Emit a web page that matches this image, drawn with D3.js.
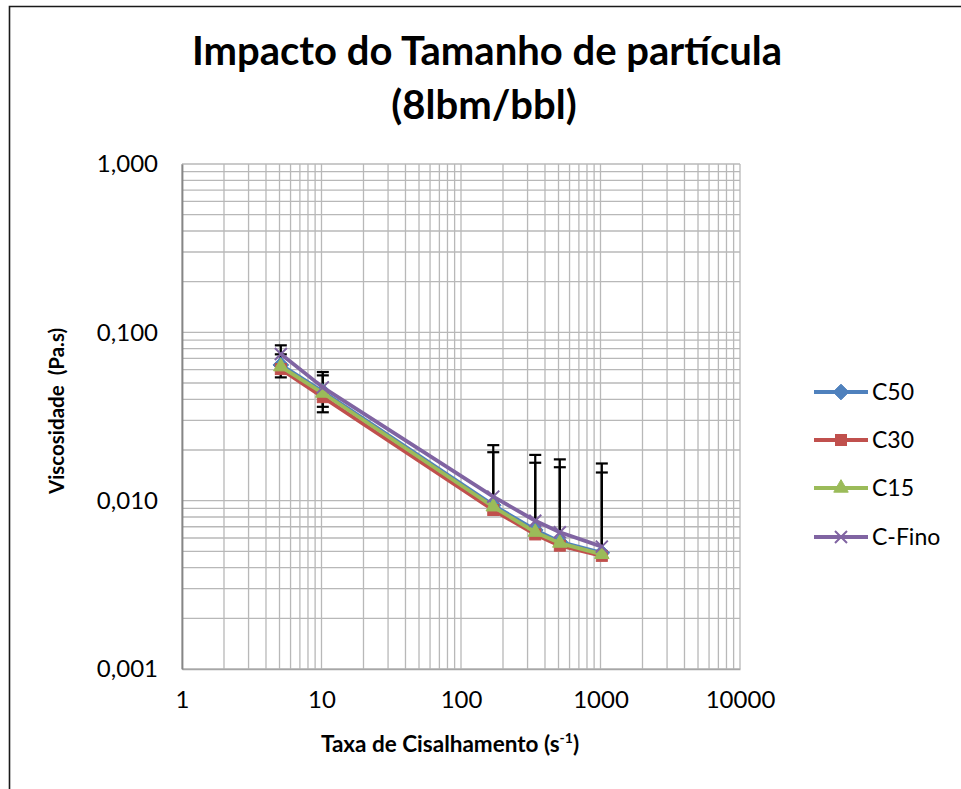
<!DOCTYPE html>
<html>
<head>
<meta charset="utf-8">
<script src="https://cdn.jsdelivr.net/npm/d3@7"></script>
<style>
  html, body { margin: 0; padding: 0; background: #fff; }
  svg { display: block; font-family: Lato, "Open Sans", sans-serif; }
</style>
</head>
<body>
<svg id="chart" width="961" height="789"></svg>
<script>
// Shear rates (s^-1) of the rheometer readings
const shearRates = [5.11, 10.22, 170.3, 340.6, 511, 1022];

// Apparent viscosity (Pa.s) per particle size
const seriesNames = ["C50", "C30", "C15", "C-Fino"];
const c50 = [0.0640, 0.0445, 0.0094, 0.0067, 0.0057, 0.0049];
const c30 = [0.0605, 0.0412, 0.0088, 0.0063, 0.0054, 0.0047];
const c15 = [0.0625, 0.0436, 0.0092, 0.0065, 0.0056, 0.0048];
const cFino = [0.0743, 0.0471, 0.01057, 0.0076, 0.00649, 0.00533];

// Error bar amplitudes (Pa.s), plus/minus
const c50Err = [0.0100, 0.0110, 0.0100, 0.0101, 0.0101, 0.0098];
const cFinoErr = [0.0094, 0.0110, 0.0108, 0.0111, 0.0111, 0.0113];

// Axis tick labels
const xTicks = [1, 10, 100, 1000, 10000];
const yTicks = [0.001, 0.01, 0.1, 1];
const yTickLabels = ["0,001", "0,010", "0,100", "1,000"];

const colors = ["#4F81BD", "#C0504D", "#9BBB59", "#8064A2"];
const values = [c50, c30, c15, cFino];

const svg = d3.select("#chart");

// Outer chart frame (open on right and bottom)
svg.append("path")
  .attr("d", "M9.5,789 L9.5,6.5 L961,6.5")
  .attr("fill", "none").attr("stroke", "#1a1a1a").attr("stroke-width", 1.6);

const x = d3.scaleLog().domain([1, 10000]).range([182, 740]);
const y = d3.scaleLog().domain([0.001, 1]).range([669, 164]);

// Minor + major gridlines
const xGrid = [];
for (let e = 0; e < 4; e++) for (let k = 1; k <= 9; k++) xGrid.push(k * Math.pow(10, e));
xGrid.push(10000);
const yGrid = [];
for (let e = -3; e < 0; e++) for (let k = 1; k <= 9; k++) yGrid.push(k * Math.pow(10, e));
yGrid.push(1);

const grid = svg.append("g").attr("stroke", "#B8B8B8").attr("stroke-width", 1.3).attr("fill", "none");
grid.selectAll("line.gx").data(xGrid).join("line")
  .attr("x1", d => x(d)).attr("x2", d => x(d))
  .attr("y1", y(1)).attr("y2", y(0.001));
grid.selectAll("line.gy").data(yGrid).join("line")
  .attr("x1", x(1)).attr("x2", x(10000))
  .attr("y1", d => y(d)).attr("y2", d => y(d));

// Axes
const xAxis = d3.axisBottom(x).tickValues(xTicks).tickFormat(d3.format("d")).tickSize(0).tickPadding(22);
const yAxis = d3.axisLeft(y).tickValues(yTicks).tickFormat(d => yTickLabels[yTicks.indexOf(d)]).tickSize(0).tickPadding(24);

const gx = svg.append("g").attr("transform", `translate(0,${y(0.001)})`).call(xAxis);
gx.select(".domain").attr("stroke", "#A6A6A6").attr("stroke-width", 1.5);
gx.selectAll("text").attr("font-size", 24).attr("fill", "#000").attr("font-family", "Lato, sans-serif");

const gy = svg.append("g").attr("transform", `translate(${x(1)},0)`).call(yAxis);
gy.select(".domain").attr("stroke", "#868686").attr("stroke-width", 1.8);
gy.selectAll("text").attr("font-size", 24).attr("fill", "#000").attr("font-family", "Lato, sans-serif");

// Error bars (drawn beneath the series lines)
const errSets = [[c50, c50Err], [cFino, cFinoErr]];
const eb = svg.append("g").attr("stroke", "#000").attr("stroke-width", 2.2);
errSets.forEach(([vals, errs]) => {
  vals.forEach((v, i) => {
    const cx = x(shearRates[i]);
    const hi = v + errs[i];
    const lo = v - errs[i];
    const yHi = y(hi);
    const yLo = lo > 0 ? y(lo) : null;
    eb.append("line").attr("x1", cx).attr("x2", cx).attr("y1", yHi).attr("y2", yLo !== null ? yLo : y(v));
    eb.append("line").attr("x1", cx - 6).attr("x2", cx + 6).attr("y1", yHi).attr("y2", yHi);
    if (yLo !== null) eb.append("line").attr("x1", cx - 6).attr("x2", cx + 6).attr("y1", yLo).attr("y2", yLo);
  });
});

// Markers
function marker(g, idx, size) {
  const c = colors[idx];
  if (idx === 0) {
    g.append("path").attr("d", d3.symbol(d3.symbolDiamond2, size * size * 1.3)()).attr("fill", c).attr("stroke", c).attr("stroke-width", 1);
  } else if (idx === 1) {
    g.append("rect").attr("x", -size / 2).attr("y", -size / 2).attr("width", size).attr("height", size).attr("fill", c).attr("stroke", c);
  } else if (idx === 2) {
    g.append("path").attr("d", d3.symbol(d3.symbolTriangle, size * size * 0.75)()).attr("fill", c).attr("stroke", c);
  } else {
    const h = size / 2;
    g.append("path").attr("d", `M${-h},${-h}L${h},${h}M${-h},${h}L${h},${-h}`).attr("stroke", c).attr("stroke-width", 2).attr("fill", "none");
  }
}

const line = d3.line().x(d => x(d[0])).y(d => y(d[1]));
values.forEach((vals, idx) => {
  const pts = shearRates.map((r, i) => [r, vals[i]]);
  svg.append("path").datum(pts).attr("d", line)
    .attr("fill", "none").attr("stroke", colors[idx]).attr("stroke-width", 3.8).attr("stroke-linejoin", "round");
  pts.forEach(p => {
    const g = svg.append("g").attr("transform", `translate(${x(p[0])},${y(p[1])})`);
    marker(g, idx, idx === 3 ? 12 : 11);
  });
});

// Title
const title = svg.append("text").attr("text-anchor", "middle").attr("font-weight", "bold")
  .attr("font-size", 40).attr("fill", "#000");
title.append("tspan").attr("x", 487).attr("y", 65).text("Impacto do Tamanho de partícula");
title.append("tspan").attr("x", 484).attr("y", 119).text("(8lbm/bbl)");

// Axis titles
const xt = svg.append("text").attr("x", 450).attr("y", 752).attr("text-anchor", "middle")
  .attr("font-weight", "bold").attr("font-size", 22.5).attr("fill", "#000");
xt.append("tspan").text("Taxa de Cisalhamento (s");
xt.append("tspan").attr("font-size", 14).attr("dy", -9).text("-1");
xt.append("tspan").attr("dy", 9).text(")");

svg.append("text").attr("transform", `translate(64,411) rotate(-90)`).attr("text-anchor", "middle")
  .attr("font-weight", "bold").attr("font-size", 20.5).attr("fill", "#000")
  .attr("xml:space", "preserve").text("Viscosidade  (Pa.s)");

// Legend
const legY = [392, 440, 488, 537];
seriesNames.forEach((name, idx) => {
  const g = svg.append("g").attr("transform", `translate(0,${legY[idx]})`);
  g.append("line").attr("x1", 814).attr("x2", 868).attr("y1", 0).attr("y2", 0)
    .attr("stroke", colors[idx]).attr("stroke-width", 3.8);
  const m = g.append("g").attr("transform", "translate(841,0)");
  marker(m, idx, idx === 3 ? 12 : 11);
  g.append("text").attr("x", 872).attr("y", 0).attr("dy", "0.35em")
    .attr("font-size", 23).attr("fill", "#000").text(name);
});
</script>
</body>
</html>
